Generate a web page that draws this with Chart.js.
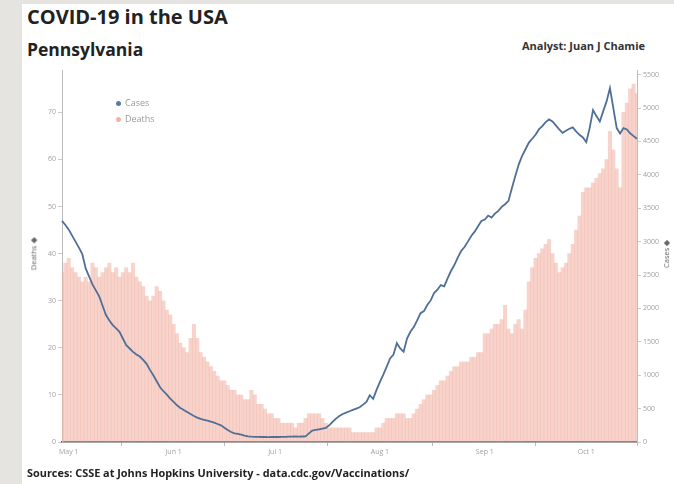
<!DOCTYPE html>
<html>
<head>
<meta charset="utf-8">
<script src="https://cdn.jsdelivr.net/npm/chart.js@4/dist/chart.umd.min.js"></script>
<style>
  html, body { margin: 0; padding: 0; }
  body { width: 674px; height: 484px; background: #e6e4e0; position: relative; overflow: hidden; font-family: "Open Sans", "Noto Sans", sans-serif; }
  #panel { position: absolute; left: 22px; top: 4px; width: 652px; height: 480px; background: #fff; }
  #chartBox { position: absolute; left: 22px; top: 60px; width: 652px; height: 410px; }
  .txt { position: absolute; white-space: nowrap; }
  #title { left: 27px; top: 3px; font-size: 20px; font-weight: 700; color: #222; }
  #state { left: 27px; top: 37px; font-size: 17.5px; font-weight: 700; color: #222; }
  #analyst { right: 29px; top: 38px; font-size: 11px; font-weight: 700; color: #333; }
  #source { left: 27px; top: 465px; font-size: 10.9px; font-weight: 700; color: #222; }
  .axt { font-size: 7.5px; color: #666; transform: rotate(-90deg); transform-origin: center; }
  #ytl { left: 17px; top: 249px; }
  #ytr { left: 652px; top: 249px; }
  .leg { font-size: 9px; color: #999; }
  .dot { display: inline-block; width: 5px; height: 5px; border-radius: 50%; margin-right: 4px; vertical-align: middle; }
</style>
</head>
<body>
<div id="panel"></div>
<div class="txt" id="title">COVID-19 in the USA</div>
<div class="txt" id="state">Pennsylvania</div>
<div class="txt" id="analyst">Analyst: Juan J Chamie</div>
<div id="chartBox"><canvas id="myChart"></canvas></div>
<div class="txt leg" style="left:116px;top:96px"><span class="dot" style="background:#5b7aa0"></span>Cases</div>
<div class="txt leg" style="left:116px;top:112px"><span class="dot" style="background:#f2b3a6"></span>Deaths</div>
<div class="txt axt" id="ytl">Deaths ◆</div>
<div class="txt axt" id="ytr">Cases ◆</div>
<div class="txt" id="source">Sources: CSSE at Johns Hopkins University - data.cdc.gov/Vaccinations/</div>
<script>
const dayCount = 171;
const days = [];
for (let i = 0; i < dayCount; i++) {
  days.push(new Date(2021, 3, 29 + i));
}
const monthNames = ['Jan', 'Feb', 'Mar', 'Apr', 'May', 'Jun', 'Jul', 'Aug', 'Sep', 'Oct', 'Nov', 'Dec'];
const dayLabels = days.map(d => monthNames[d.getMonth()] + ' ' + d.getDate());

const deathTicks = [0, 10, 20, 30, 40, 50, 60, 70];
const caseTicks = [0, 500, 1000, 1500, 2000, 2500, 3000, 3500, 4000, 4500, 5000, 5500];

const cases = [
  3310, 3250, 3180, 3090, 3000, 2910, 2815, 2600, 2480, 2360,
  2270, 2180, 2040, 1900, 1820, 1750, 1700, 1650, 1550, 1450,
  1400, 1350, 1310, 1280, 1230, 1170, 1080, 1000, 910, 820,
  760, 710, 650, 600, 550, 510, 480, 450, 420, 390,
  365, 345, 330, 320, 305, 290, 270, 250, 215, 180,
  150, 130, 120, 110, 95, 85, 80, 78, 76, 75,
  75, 74, 75, 76, 75, 76, 78, 80, 80, 82,
  80, 82, 85, 130, 170, 180, 190, 200, 210, 250,
  300, 350, 390, 420, 440, 460, 480, 500, 520, 560,
  600, 700, 645, 780, 900, 1010, 1130, 1250, 1310, 1480,
  1400, 1350, 1550, 1650, 1720, 1820, 1930, 1960, 2050, 2120,
  2230, 2280, 2350, 2330, 2450, 2560, 2650, 2760, 2860, 2920,
  3000, 3085, 3150, 3230, 3310, 3330, 3390, 3360, 3420, 3460,
  3520, 3560, 3610, 3800, 3980, 4150, 4280, 4380, 4480, 4540,
  4600, 4680, 4730, 4790, 4830, 4800, 4740, 4680, 4630, 4660,
  4690, 4710, 4650, 4600, 4560, 4490, 4700, 4970, 4880, 4800,
  4950, 5100, 5300, 5000, 4700, 4620, 4700, 4680, 4620, 4580,
  4540
];

const deaths = [
  36, 38, 39, 37, 36, 35, 34, 35, 34, 38,
  37, 35, 36, 37, 38, 36, 37, 35, 36, 37,
  36, 38, 35, 34, 33, 31, 30, 31, 33, 32,
  30, 28, 27, 25, 23, 21, 20, 19, 22, 25,
  22, 19, 18, 17, 16, 15, 14, 13, 13, 12,
  11, 11, 10, 10, 9, 9, 11, 10, 8, 8,
  7, 6, 6, 5, 5, 4, 4, 4, 4, 3,
  4, 4, 5, 6, 6, 6, 6, 5, 4, 3,
  3, 3, 3, 3, 3, 3, 2, 2, 2, 2,
  2, 2, 2, 3, 3, 4, 5, 5, 5, 6,
  6, 6, 5, 5, 6, 7, 8, 9, 10, 10,
  11, 12, 13, 13, 14, 15, 16, 16, 17, 17,
  17, 18, 18, 19, 19, 23, 23, 24, 25, 25,
  26, 29, 24, 23, 25, 26, 24, 28, 34, 37,
  39, 40, 41, 42, 43, 40, 38, 36, 37, 38,
  40, 42, 45, 48, 53, 54, 54, 55, 56, 57,
  58, 60, 66, 62, 58, 54, 70, 72, 75, 76,
  74
];

const tickFont = { family: 'Open Sans', size: 7 };
const tickColor = '#a0a0a0';

new Chart(document.getElementById('myChart').getContext('2d'), {
  type: 'bar',
  data: {
    labels: dayLabels,
    datasets: [
      {
        type: 'line',
        label: 'Cases',
        data: cases,
        yAxisID: 'yCases',
        borderColor: '#4f6f96',
        borderWidth: 1.8,
        pointRadius: 0,
        tension: 0,
        order: 0
      },
      {
        type: 'bar',
        label: 'Deaths',
        data: deaths,
        yAxisID: 'yDeaths',
        backgroundColor: 'rgba(241, 175, 160, 0.55)',
        barPercentage: 1,
        categoryPercentage: 1,
        order: 1
      }
    ]
  },
  options: {
    responsive: true,
    maintainAspectRatio: false,
    animation: false,
    layout: { padding: { top: 10, left: 0, right: 0, bottom: 0 } },
    plugins: { legend: { display: false }, tooltip: { enabled: false } },
    scales: {
      x: {
        offset: false,
        grid: { drawOnChartArea: false, drawTicks: true, tickLength: 4, color: '#bbb' },
        border: { color: '#555', width: 1.5 },
        afterBuildTicks: s => { s.ticks = s.ticks.filter(t => days[t.value].getDate() === 1); },
        afterFit: s => { s.height = 28; },
        ticks: { autoSkip: false, maxRotation: 0, color: tickColor, font: tickFont, padding: 2,
          callback: function (v) { return dayLabels[v]; } }
      },
      yDeaths: {
        position: 'left',
        min: 0,
        max: 79,
        afterBuildTicks: s => { s.ticks = deathTicks.map(v => ({ value: v })); },
        afterFit: s => { s.width = 40; },
        grid: { drawOnChartArea: false, tickLength: 4, color: '#ccc' },
        border: { color: '#bbb' },
        ticks: { autoSkip: false, color: tickColor, font: tickFont, padding: 2 }
      },
      yCases: {
        position: 'right',
        min: 0,
        max: 5570,
        afterBuildTicks: s => { s.ticks = caseTicks.map(v => ({ value: v })); },
        afterFit: s => { s.width = 37; },
        grid: { drawOnChartArea: false, tickLength: 4, color: '#ccc' },
        border: { color: '#bbb' },
        ticks: { autoSkip: false, color: tickColor, font: tickFont, padding: 2,
          callback: v => String(v) }
      }
    }
  }
});
</script>
</body>
</html>
